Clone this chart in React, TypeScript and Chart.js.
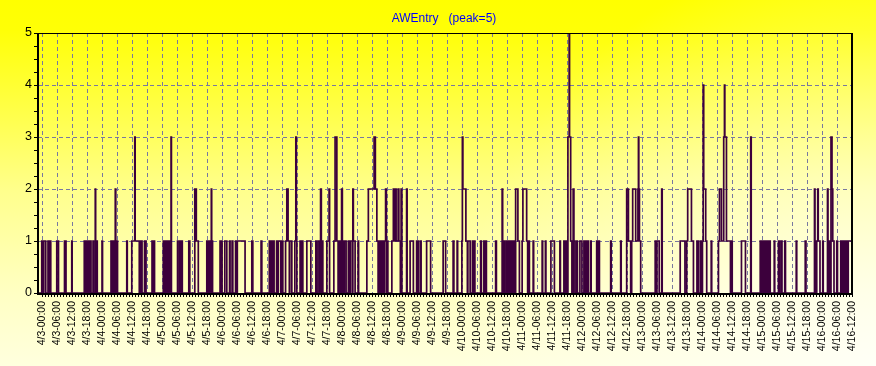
import { useEffect, useRef } from "react";
import { Chart, registerables } from "chart.js";

Chart.register(...registerables);

const TITLE = "AWEntry   (peak=5)";
const FONT = "'Liberation Sans', Arial, sans-serif";
const LINE_COLOR = "#3c003c";
const GRID_COLOR = "#7878a0";

// tick labels: month/day - time, every 6 hours
const labelDays = [3, 4, 5, 6, 7, 8, 9, 10, 11, 12, 13, 14, 15, 16];
const labelTimes = ["00:00", "06:00", "12:00", "18:00"];
const LAST_HOUR = 324; // 4/16-12:00
const X_MIN = -1.5;
const yTicks = [0, 1, 2, 3, 4, 5];

// Pulses: [start hour, end hour, count], hours counted from 4/3 00:00
const day03 = [
  [0, 0.5, 1], [0.8, 1.6, 1], [2.5, 2.8, 1], [3.2, 3.6, 1], [6.0, 6.7, 1], [9.1, 9.7, 1],
  [12.0, 12.15, 1], [17.0, 17.4, 1], [17.7, 18.1, 1], [18.3, 18.7, 1], [18.9, 19.3, 1],
  [19.4, 19.7, 1], [20.5, 20.7, 1], [21.4, 21.55, 2], [22.0, 22.2, 1],
];
const day04 = [
  [24.1, 24.3, 1], [27.7, 27.9, 1], [28.3, 28.5, 1], [29.1, 29.4, 1], [29.4, 29.6, 2],
  [29.7, 30.3, 1], [34.0, 34.2, 1], [36.0, 37.2, 1], [37.2, 37.35, 3], [37.35, 39.0, 1],
  [39.1, 39.5, 1], [39.7, 40.1, 1], [41.1, 41.7, 1], [44.1, 44.5, 1], [44.7, 45.1, 1],
];
const day05 = [
  [48.6, 48.8, 1], [49.2, 49.4, 1], [49.9, 50.3, 1], [50.5, 51.0, 1], [51.1, 51.6, 1],
  [51.7, 51.85, 3], [54.3, 54.5, 1], [55.2, 55.4, 1], [56.0, 56.2, 1], [58.8, 59.2, 1],
  [61.2, 61.8, 2], [61.8, 62.6, 1], [66.0, 66.4, 1], [66.6, 67.2, 1], [67.4, 67.8, 1],
  [67.8, 67.95, 2], [68.0, 68.3, 1], [71.3, 71.5, 1], [71.9, 72.1, 1],
];
const day06 = [
  [73.2, 74.0, 1], [75.1, 75.3, 1], [76.1, 76.4, 1], [77.5, 77.7, 1], [78.2, 81.3, 1],
  [84.0, 84.4, 1], [87.7, 88.0, 1], [91.0, 91.3, 1], [91.6, 92.0, 1], [92.4, 92.9, 1],
  [93.9, 94.2, 1], [94.6, 95.6, 1], [95.8, 96.4, 1],
];
const day07 = [
  [97.5, 98.0, 1], [98.0, 98.5, 2], [98.5, 99.0, 1], [99.2, 100.0, 1], [101.2, 101.6, 1],
  [101.6, 101.8, 3], [101.8, 102.0, 1], [103.3, 103.7, 1], [103.9, 104.4, 1], [106.0, 107.6, 1],
  [109.6, 109.8, 1], [110.5, 111.2, 1], [111.5, 111.8, 2], [112.0, 112.4, 1], [114.0, 114.9, 1],
  [114.9, 115.1, 2], [116.8, 117.3, 1], [117.3, 118.0, 3], [118.0, 118.5, 1], [118.7, 119.1, 1],
  [119.3, 119.8, 1], [119.9, 120.2, 2],
];
const day08 = [
  [120.3, 120.8, 1], [121.0, 121.7, 1], [122.6, 123.0, 1], [123.5, 124.3, 1], [124.4, 124.6, 2],
  [124.6, 125.3, 1], [126.5, 126.7, 1], [130.0, 130.6, 1], [130.6, 132.9, 2], [132.9, 133.4, 3],
  [133.4, 134.0, 2], [134.0, 134.5, 1], [134.6, 135.0, 1], [135.4, 135.9, 1], [136.2, 136.8, 1],
  [137.0, 137.5, 1], [137.5, 137.8, 2], [138.0, 138.4, 1], [140.0, 140.6, 1], [140.6, 141.0, 2],
  [141.0, 141.4, 1], [141.4, 141.7, 2], [141.7, 142.5, 1], [142.5, 142.8, 2], [142.8, 143.4, 1],
  [143.7, 144.0, 2],
];
const day09 = [
  [145.9, 146.1, 2], [147.3, 148.6, 1], [149.9, 150.1, 1], [150.5, 150.7, 1], [151.5, 151.7, 1],
  [153.9, 155.5, 1], [160.5, 161.5, 1], [164.5, 164.8, 1], [166.1, 166.3, 1],
];
const day10 = [
  [168.0, 168.2, 1], [168.2, 168.4, 3], [168.4, 169.6, 2], [169.6, 170.2, 1], [170.4, 171.3, 1],
  [172.2, 172.4, 1], [173.0, 173.2, 1], [175.5, 175.8, 1], [176.8, 177.2, 1], [177.5, 177.8, 1],
  [181.5, 181.8, 1], [184.1, 184.3, 2], [184.6, 184.9, 1], [185.6, 185.9, 1], [186.4, 186.7, 1],
  [187.2, 187.5, 1], [188.1, 188.4, 1], [188.8, 189.1, 1], [189.5, 190.4, 2], [190.4, 191.0, 1],
];
const day11 = [
  [192.1, 192.4, 1], [192.4, 193.9, 2], [193.9, 194.3, 1], [194.8, 195.0, 1], [196.5, 196.7, 1],
  [200.1, 200.3, 1], [201.4, 201.6, 1], [203.6, 205.0, 1], [207.2, 207.4, 1], [208.8, 209.2, 1],
  [209.8, 210.3, 1], [210.4, 210.9, 3], [210.9, 211.05, 5], [211.05, 211.5, 3], [211.5, 212.0, 1],
  [212.5, 212.8, 2], [212.8, 213.2, 1], [213.9, 214.2, 1], [215.2, 216.0, 1],
];
const day12 = [
  [216.8, 217.3, 1], [217.5, 218.0, 1], [218.3, 218.6, 1], [219.5, 219.7, 1], [221.9, 222.3, 1],
  [222.5, 223.0, 1], [227.5, 227.7, 1], [231.5, 231.7, 1], [233.9, 234.6, 2], [234.6, 235.5, 1],
  [235.9, 236.3, 1], [236.3, 237.5, 2], [237.5, 238.4, 1], [238.4, 238.6, 2], [238.6, 238.75, 3],
  [238.75, 239.0, 2], [239.0, 239.5, 1],
];
const day13 = [
  [245.3, 245.8, 1], [246.0, 246.9, 1], [247.9, 248.1, 2], [255.3, 257.2, 1], [257.9, 258.3, 1],
  [258.3, 259.8, 2], [259.8, 260.6, 1], [262.0, 262.6, 1], [263.4, 263.8, 1],
];
const day14 = [
  [264.2, 264.5, 1], [264.5, 264.7, 4], [264.7, 265.5, 2], [265.5, 265.9, 1], [267.7, 267.9, 1],
  [270.6, 271.0, 1], [271.0, 271.8, 2], [271.8, 272.7, 1], [272.7, 273.0, 3], [273.0, 273.15, 4],
  [273.15, 273.8, 3], [273.8, 275.4, 1], [275.9, 276.1, 1], [279.8, 281.4, 1], [283.5, 283.7, 3],
  [287.3, 287.8, 1],
];
const day15 = [
  [288.2, 288.7, 1], [289.0, 289.6, 1], [289.9, 290.4, 1], [290.8, 291.3, 1], [292.9, 293.1, 1],
  [294.6, 294.9, 1], [295.6, 296.0, 1], [297.1, 297.4, 1], [301.7, 301.9, 1], [305.3, 305.6, 1],
  [309.0, 309.2, 2], [309.2, 309.6, 1], [309.9, 310.3, 1], [310.3, 310.5, 2], [310.5, 311.2, 1],
];
const day16 = [
  [312.3, 312.5, 1], [314.2, 314.4, 2], [314.6, 315.0, 1], [315.6, 316.0, 3], [316.0, 316.3, 2],
  [316.3, 316.8, 1], [317.9, 318.2, 1], [319.5, 319.8, 1], [320.4, 321.0, 1], [321.6, 321.9, 1],
  [322.5, 324.0, 1],
];

const allPulses = [
  ...day03, ...day04, ...day05, ...day06, ...day07, ...day08, ...day09,
  ...day10, ...day11, ...day12, ...day13, ...day14, ...day15, ...day16,
];

function buildTicks() {
  const hours: number[] = [];
  const labels: string[] = [];
  labelDays.forEach((d, di) => {
    labelTimes.forEach((t, ti) => {
      const h = di * 24 + ti * 6;
      if (h <= LAST_HOUR) {
        hours.push(h);
        labels.push(`4/${d}-${t}`);
      }
    });
  });
  return { hours, labels };
}

function buildPoints() {
  const pts: { x: number; y: number }[] = [{ x: X_MIN, y: 0 }];
  for (let i = 0; i < allPulses.length; i++) {
    const [s, e, v] = allPulses[i];
    pts.push({ x: s, y: v });
    const next = allPulses[i + 1];
    if (!next || Math.abs(next[0] - e) > 1e-6) pts.push({ x: e, y: 0 });
  }
  pts.push({ x: LAST_HOUR, y: 0 });
  return pts;
}

export default function App() {
  const ref = useRef<HTMLCanvasElement>(null);

  useEffect(() => {
    const canvas = ref.current;
    if (!canvas) return;
    const { hours: tickHours, labels: tickLabels } = buildTicks();

    const bgPlugin = {
      id: "bg",
      beforeDraw(chart: any) {
        const { ctx, width, height } = chart;
        ctx.save();
        const g = ctx.createLinearGradient(0, 0, 0, height);
        g.addColorStop(0, "rgb(255,255,0)");
        g.addColorStop(0.08, "rgb(255,255,6)");
        g.addColorStop(0.33, "rgb(255,255,80)");
        g.addColorStop(0.52, "rgb(255,255,140)");
        g.addColorStop(0.8, "rgb(255,255,195)");
        g.addColorStop(1, "rgb(255,255,222)");
        ctx.fillStyle = g;
        ctx.fillRect(0, 0, width, height);
        const r = ctx.createRadialGradient(width, height, 0, width, height, 420);
        r.addColorStop(0, "rgba(255,255,255,0.75)");
        r.addColorStop(1, "rgba(255,255,255,0)");
        ctx.fillStyle = r;
        ctx.fillRect(0, 0, width, height);
        ctx.restore();
      },
    };

    const gridPlugin = {
      id: "dashgrid",
      beforeDatasetsDraw(chart: any) {
        const { ctx, chartArea: a, scales } = chart;
        const xs = scales.x;
        const ys = scales.y;
        ctx.save();
        ctx.strokeStyle = GRID_COLOR;
        ctx.lineWidth = 1;
        ctx.setLineDash([4, 3]);
        tickHours.forEach((h) => {
          const x = Math.round(xs.getPixelForValue(h)) + 0.5;
          ctx.beginPath();
          ctx.moveTo(x, a.top);
          ctx.lineTo(x, a.bottom);
          ctx.stroke();
        });
        yTicks.forEach((v) => {
          if (v === 0 || v === 5) return;
          const y = Math.round(ys.getPixelForValue(v)) + 0.5;
          ctx.beginPath();
          ctx.moveTo(a.left, y);
          ctx.lineTo(a.right, y);
          ctx.stroke();
        });
        ctx.setLineDash([]);
        // minor ticks
        ctx.strokeStyle = "#000";
        for (let i = 0; i <= (tickHours.length - 1) * 5; i++) {
          const h = i * 1.2;
          const x = Math.round(xs.getPixelForValue(h)) + 0.5;
          ctx.beginPath();
          ctx.moveTo(x, a.bottom);
          ctx.lineTo(x, a.bottom + 4);
          ctx.stroke();
        }
        for (let i = 0; i <= 20; i++) {
          const y = Math.round(ys.getPixelForValue(i * 0.25)) + 0.5;
          ctx.beginPath();
          ctx.moveTo(a.left - 4, y);
          ctx.lineTo(a.left, y);
          ctx.stroke();
        }
        ctx.restore();
      },
    };

    const framePlugin = {
      id: "frame",
      afterDatasetsDraw(chart: any) {
        const { ctx, chartArea: a } = chart;
        ctx.save();
        ctx.fillStyle = "#000";
        ctx.fillRect(a.left, a.top, a.right - a.left, 1);
        ctx.fillRect(a.left - 1, a.top, 2, a.bottom - a.top + 2);
        ctx.fillRect(a.right - 1, a.top, 2, a.bottom - a.top + 2);
        ctx.fillRect(a.left - 1, a.bottom, a.right - a.left + 2, 2);
        ctx.fillStyle = "#0000ff";
        ctx.font = `12px ${FONT}`;
        ctx.textAlign = "center";
        ctx.textBaseline = "middle";
        ctx.fillText(TITLE, 444, 19);
        ctx.restore();
      },
    };

    const chart = new Chart(canvas, {
      type: "line",
      data: {
        datasets: [
          {
            data: buildPoints(),
            borderColor: LINE_COLOR,
            borderWidth: 1.7,
            pointRadius: 0,
            fill: false,
            stepped: true,
            tension: 0,
          },
        ],
      },
      options: {
        responsive: false,
        animation: false,
        events: [],
        layout: { padding: { top: 33, right: 24, left: 0, bottom: 0 } },
        plugins: {
          legend: { display: false },
          tooltip: { enabled: false },
          title: { display: false },
        },
        scales: {
          x: {
            type: "linear",
            min: X_MIN,
            max: LAST_HOUR,
            grid: { display: false, drawTicks: false },
            border: { display: false },
            afterBuildTicks: (s: any) => {
              s.ticks = tickHours.map((v) => ({ value: v }));
            },
            afterFit: (s: any) => {
              s.height = 73;
            },
            ticks: {
              autoSkip: false,
              minRotation: 90,
              maxRotation: 90,
              padding: 8,
              color: "#000",
              font: { family: FONT, size: 10.5 },
              callback: (_v: any, i: number) => tickLabels[i],
            },
          },
          y: {
            type: "linear",
            min: 0,
            max: 5,
            grid: { display: false, drawTicks: false },
            border: { display: false },
            afterBuildTicks: (s: any) => {
              s.ticks = yTicks.map((v) => ({ value: v }));
            },
            afterFit: (s: any) => {
              s.width = 38;
            },
            ticks: {
              padding: 6,
              color: "#000",
              font: { family: FONT, size: 12.5 },
            },
          },
        },
      } as any,
      plugins: [bgPlugin, gridPlugin, framePlugin],
    });

    return () => chart.destroy();
  }, []);

  return (
    <div style={{ position: "absolute", left: 0, top: 0, width: 876, height: 366 }}>
      <canvas ref={ref} width={876} height={366} style={{ display: "block" }} />
    </div>
  );
}
